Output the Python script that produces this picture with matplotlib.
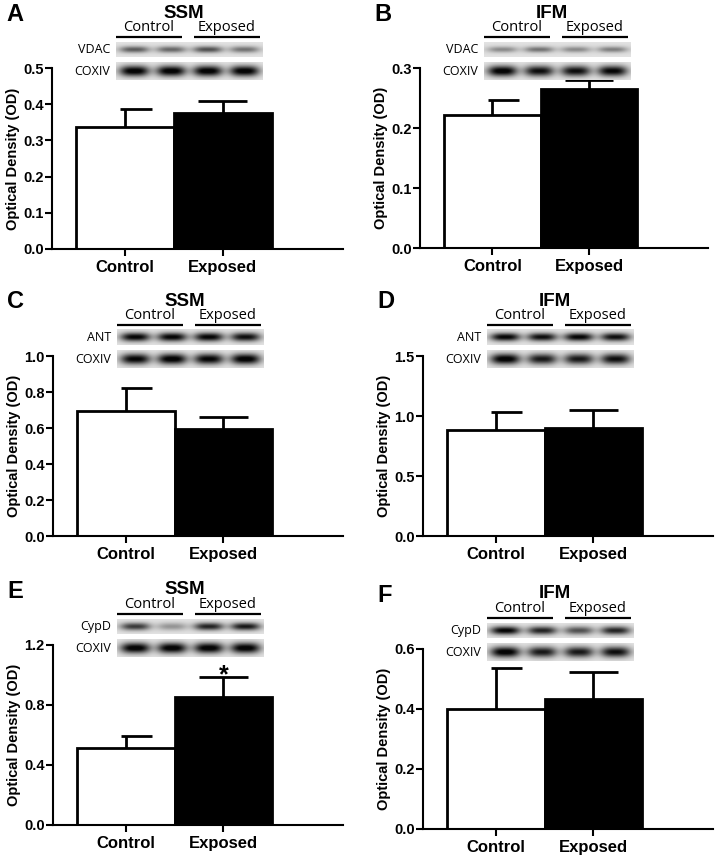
import numpy as np
import matplotlib
matplotlib.use('Agg')
from matplotlib import pyplot as plt
from matplotlib.ticker import FormatStrFormatter, MultipleLocator

W, H = 721, 857

panels = ['A', 'B', 'C', 'D', 'E', 'F']
fractions = ['SSM', 'IFM', 'SSM', 'IFM', 'SSM', 'IFM']
proteins = ['VDAC', 'VDAC', 'ANT', 'ANT', 'CypD', 'CypD']
groups = ['Control', 'Exposed']

control_mean = [0.338, 0.222, 0.693, 0.883, 0.511, 0.400]
control_sem = [0.049, 0.025, 0.127, 0.147, 0.085, 0.136]
exposed_mean = [0.377, 0.265, 0.593, 0.897, 0.856, 0.433]
exposed_sem = [0.033, 0.015, 0.067, 0.153, 0.133, 0.089]
significant = [False, False, False, False, True, False]

y_max = [0.5, 0.3, 1.0, 1.5, 1.2, 0.6]
y_step = [0.1, 0.1, 0.2, 0.5, 0.4, 0.2]

# band darkness per lane (2 control, 2 exposed)
protein_bands = [
    [0.55, 0.50, 0.60, 0.45],
    [0.35, 0.45, 0.35, 0.40],
    [0.95, 0.95, 0.95, 0.90],
    [0.95, 0.90, 0.95, 0.90],
    [0.70, 0.30, 0.80, 0.85],
    [0.95, 0.80, 0.60, 0.80],
]
coxiv_bands = [
    [1.00, 1.00, 1.00, 1.00],
    [1.00, 0.90, 0.90, 0.95],
    [0.95, 1.00, 0.95, 1.00],
    [1.00, 0.85, 0.85, 0.90],
    [1.00, 1.00, 1.00, 1.00],
    [1.00, 0.85, 0.85, 0.90],
]
protein_band_h = [0.22, 0.20, 0.28, 0.26, 0.26, 0.28]

# axes boxes in pixels: left, top, right, bottom
boxes = [(52, 68, 343, 249), (420, 68, 708, 248),
         (53, 356, 343, 536), (423, 356, 713, 536),
         (53, 645, 343, 825), (423, 649, 713, 829)]

bold = dict(family='Liberation Sans', fontweight='bold')
blot_font = 'Open Sans'


def px_rect(l, t, r, b):
    return [l / W, 1 - b / H, (r - l) / W, (b - t) / H]


def strip_image(dark, band_h, w, h):
    xs = np.linspace(0, 1, w * 3)
    ys = np.linspace(0, 1, h * 3)
    X, Y = np.meshgrid(xs, ys)
    img = np.full(X.shape, 0.89) - 0.04 * (1 - np.abs(Y - 0.5) * 2)
    for i, d in enumerate(dark):
        cx = (i + 0.5) / 4
        prof = np.exp(-np.abs((X - cx) / 0.1) ** 3) * np.exp(-((Y - 0.5) / band_h) ** 2)
        img -= 0.9 * d * prof
    return np.clip(img, 0.02, 1)


fig = plt.figure(figsize=(W / 100, H / 100), dpi=100)
x = np.arange(len(groups))

for i, p in enumerate(panels):
    ax = fig.add_axes(px_rect(*boxes[i]))
    means = [control_mean[i], exposed_mean[i]]
    sems = [control_sem[i], exposed_sem[i]]
    ax.bar(x, means, width=1.0, color=['white', 'black'],
           edgecolor='black', linewidth=2, zorder=2)
    ax.errorbar(x, means, yerr=[[0, 0], sems], fmt='none', ecolor='black',
                elinewidth=2, capsize=0, zorder=3)
    tops = np.array(means) + np.array(sems)
    ax.hlines(tops, x + np.array([-0.05, -0.25]), x + np.array([0.27, 0.25]),
              color='black', linewidth=2, zorder=3)
    if significant[i]:
        ax.annotate('*', xy=(1, tops[1]), xytext=(0, -4), textcoords='offset points',
                    ha='center', va='baseline', fontsize=18, **bold)

    ax.set_xlim(-0.75, 2.23)
    ax.set_ylim(0, y_max[i])
    ax.yaxis.set_major_locator(MultipleLocator(y_step[i]))
    ax.yaxis.set_major_formatter(FormatStrFormatter('%.1f'))
    ax.set_xticks(x)
    ax.set_xticklabels(groups, fontsize=12, **bold)
    for lab in ax.get_yticklabels():
        lab.set_fontsize(10.5)
        lab.set_family('Liberation Sans')
        lab.set_fontweight('bold')
    ax.tick_params(axis='y', length=5, width=1.5, pad=1)
    ax.tick_params(axis='x', length=5, width=1.5, pad=3)
    for s in ['top', 'right']:
        ax.spines[s].set_visible(False)
    for s in ['left', 'bottom']:
        ax.spines[s].set_linewidth(1.5)
    ax.set_ylabel('Optical Density (OD)', fontsize=10.5, **bold)
    ax.yaxis.set_label_coords(-0.11, 0.5)

# overlay in pixel units for panel letters, titles and blots
ov = fig.add_axes([0, 0, 1, 1], zorder=10)
ov.patch.set_visible(False)
ov.axis('off')

for i, p in enumerate(panels):
    l, t, r, b = boxes[i]
    ov.text(l - 46, t - 54, p, fontsize=17, ha='left', va='center', **bold)
    ov.text(l + 132, t - 55, fractions[i], fontsize=13.5, ha='center', va='center', **bold)
    for g, (g0, g1) in zip(groups, [(64, 130), (142, 208)]):
        ov.plot([l + g0, l + g1], [t - 31, t - 31], color='black', lw=1.6,
                solid_capstyle='butt')
        ov.text(l + (g0 + g1) / 2, t - 33, g, fontsize=10.5, family=blot_font,
                ha='center', va='bottom')
    s0, s1 = l + 64, l + 211
    rows = [(proteins[i], protein_bands[i], protein_band_h[i], t - 26, t - 11),
            ('COXIV', coxiv_bands[i], 0.30, t - 6, t + 12)]
    for name, dark, bh, y0, y1 in rows:
        img = strip_image(dark, bh, s1 - s0, y1 - y0)
        ov.imshow(img, cmap='gray', vmin=0, vmax=1, extent=(s0, s1, y1, y0),
                  aspect='auto', interpolation='bilinear')
        ov.text(s0 - 6, (y0 + y1) / 2, name, fontsize=9, family=blot_font,
                ha='right', va='center')

ov.set_xlim(0, W)
ov.set_ylim(H, 0)

fig.savefig('out.png', dpi=100)
